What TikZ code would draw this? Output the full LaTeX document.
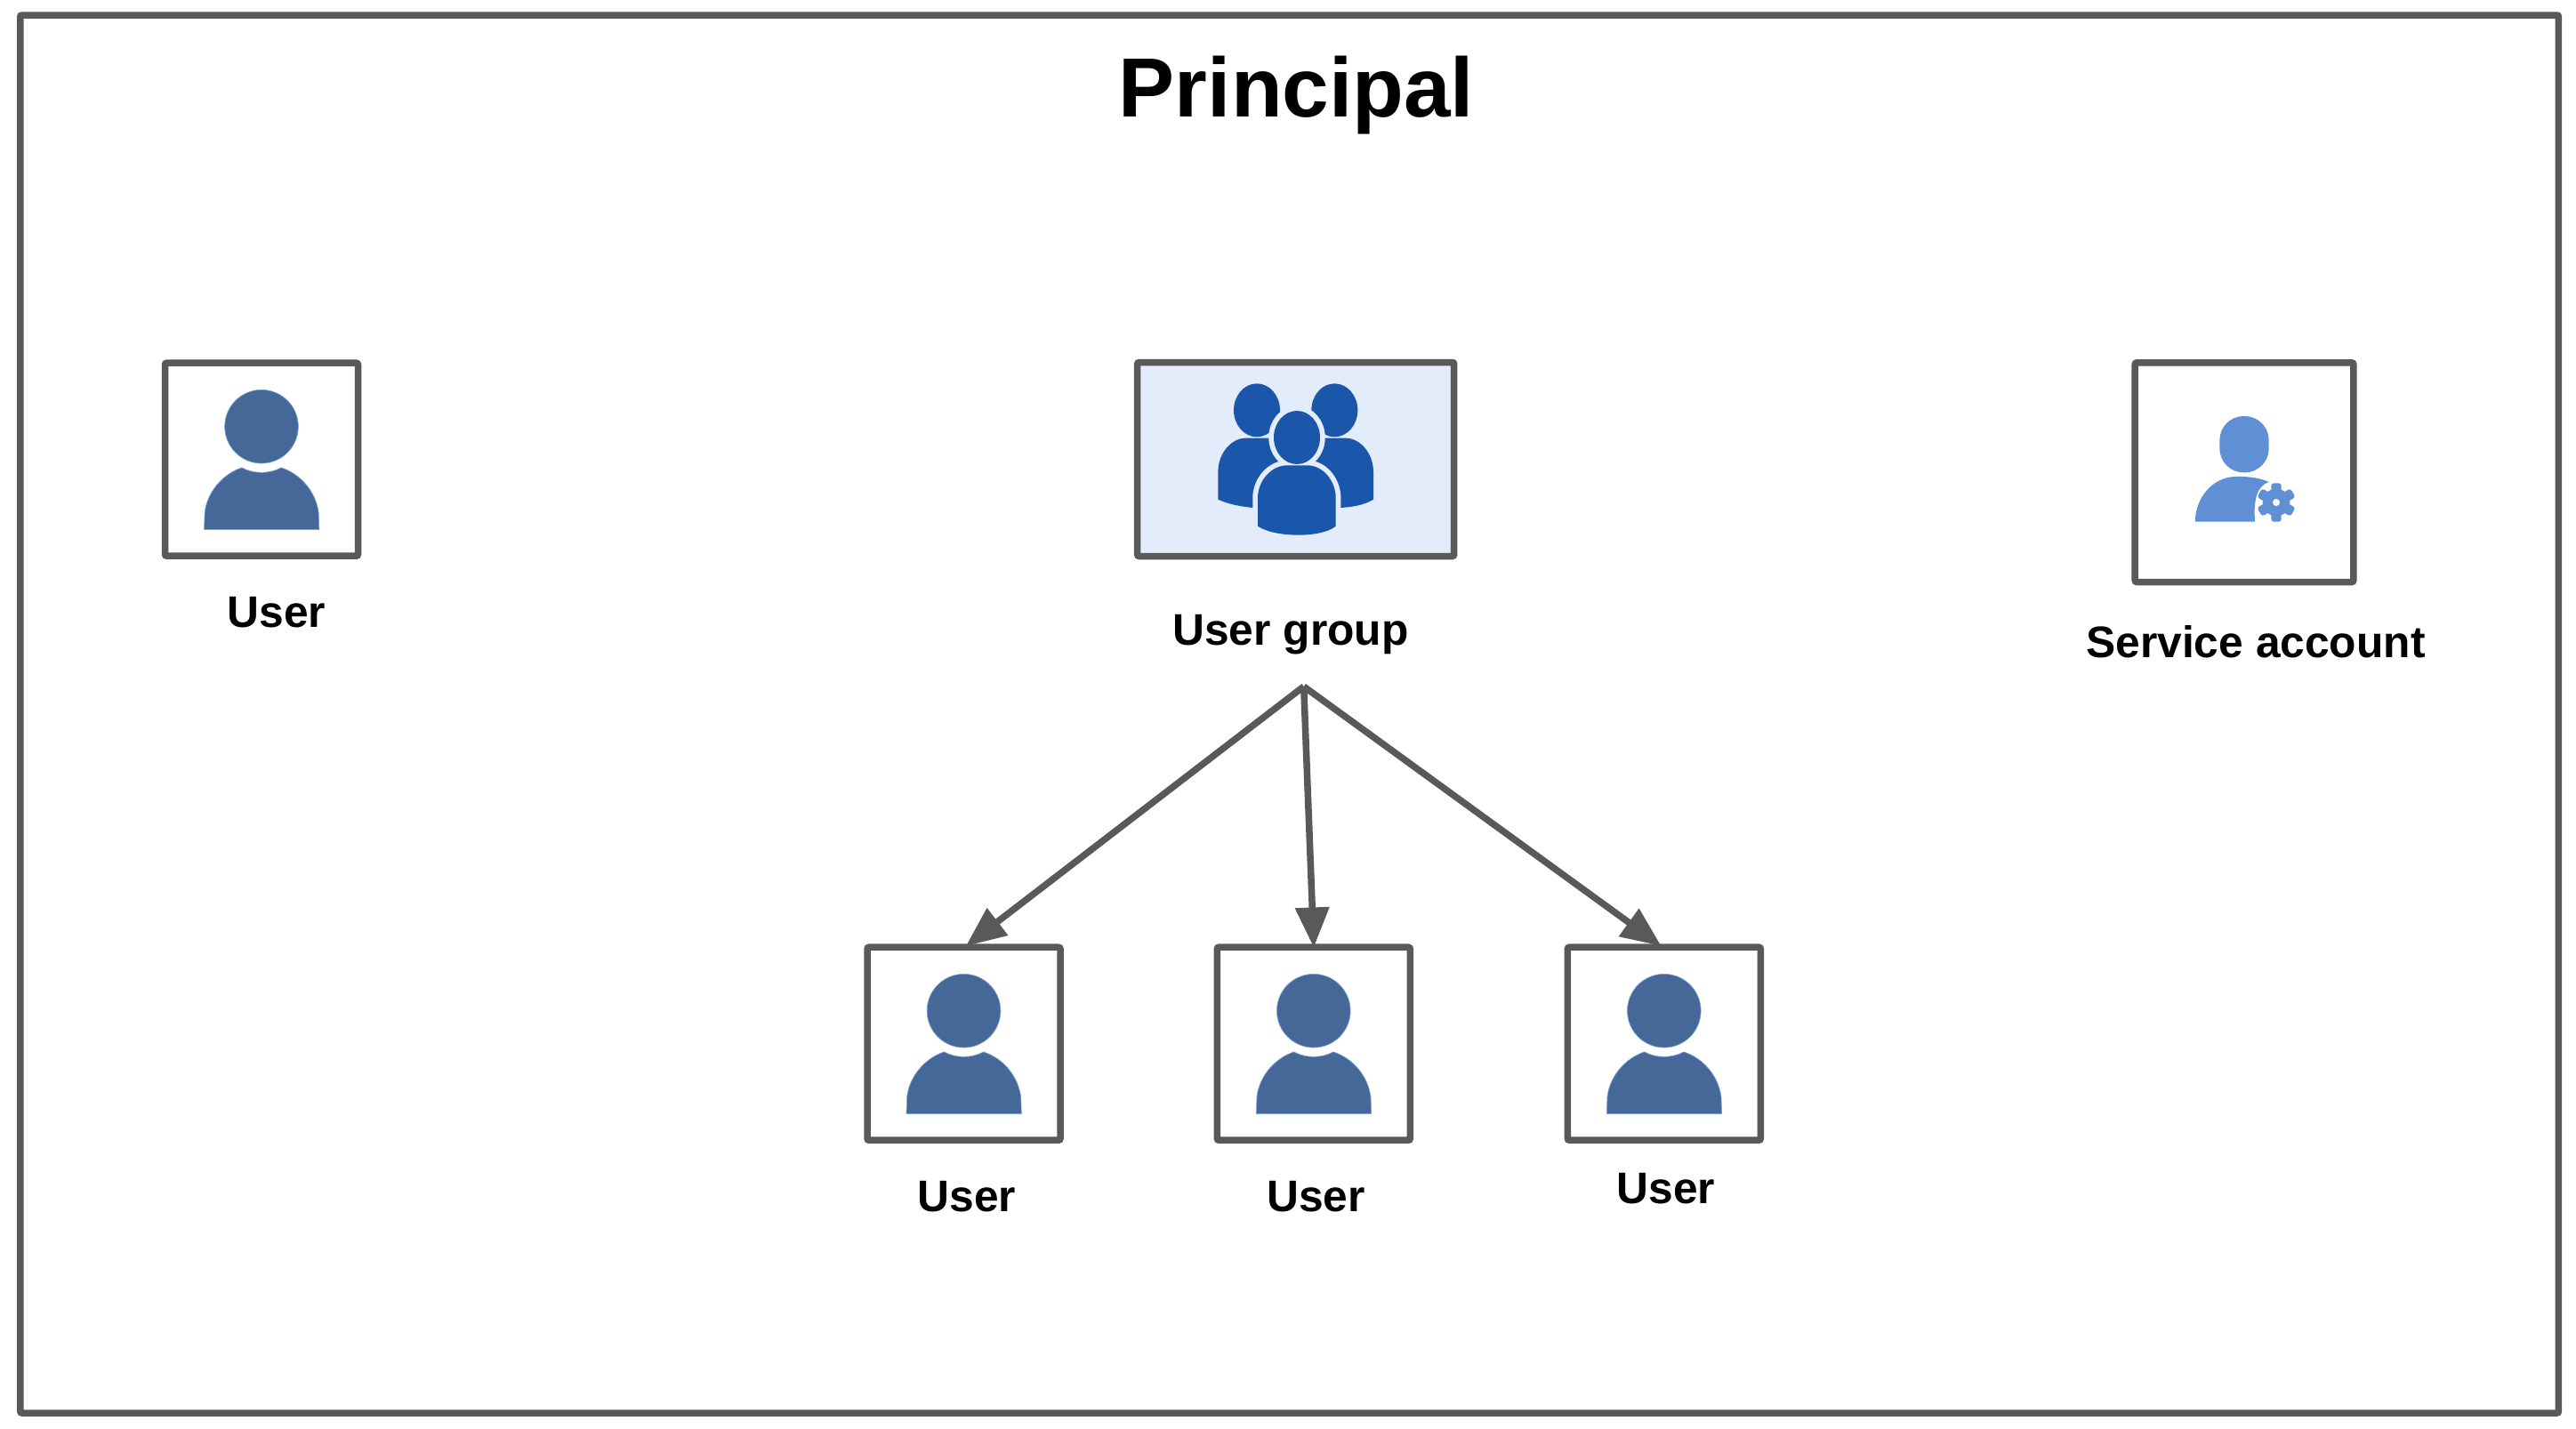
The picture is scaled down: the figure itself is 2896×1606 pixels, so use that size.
\documentclass[tikz,border=0pt]{standalone}
\usepackage{fontspec}
\setmainfont{Liberation Sans}
\usetikzlibrary{arrows.meta,calc}
\definecolor{edgegrey}{HTML}{595959}
\definecolor{userblue}{HTML}{456898}
\definecolor{userrim}{HTML}{7AA3DC}
\definecolor{groupblue}{HTML}{1A57AB}
\definecolor{groupbg}{HTML}{E3ECFB}
\definecolor{svcblue}{HTML}{5F8FD5}
\tikzset{
  frame/.style={draw=edgegrey,line width=7.5pt,rounded corners=2pt,inner sep=0pt,fill=white},
  userbox/.style={frame,minimum width=217pt,minimum height=217pt},
  label/.style={inner sep=0pt,anchor=base,font=\fontsize{49.7}{58}\selectfont\bfseries},
  link/.style={draw=edgegrey,line width=7.5pt,shorten >=-4pt,-{Triangle[length=45pt,width=37pt]}},
  usericon/.pic={
    \begin{scope}[xscale=1/3,yscale=1/3,shift={(-431.5,-410.5)}]
      \fill[userblue,draw=userrim,line width=.6pt] (431.5,299.5) circle[radius=124];
      \fill[userblue,draw=userrim,line width=.6pt] (238,647) -- (240,590) .. controls (248,520) and (300,460) .. (365,438)
        .. controls (405,460) and (458,460) .. (498,438) .. controls (565,460) and (615,520) .. (624,590) -- (626,647) -- cycle;
    \end{scope}
  }
}
\begin{document}
\begin{tikzpicture}[x=1pt,y=-1pt]
\useasboundingbox (0,0) rectangle (2896,1606);
\fill[white] (0,0) rectangle (2896,1606);
\node[frame,minimum width=2853.7pt,minimum height=1572pt] (outer) at (1449.6,803) {};
\node[inner sep=0pt,anchor=base,font=\fontsize{94.5}{110}\selectfont\bfseries] (title) at (1457.5,131) {Principal};

\node[userbox] (solo) at (294,516.7) {};
\pic at (solo.center) {usericon};
\node[label] (sololabel) at (311,705) {User};

\node[frame,fill=groupbg,minimum width=356pt,minimum height=218pt] (group) at (1456.7,516.5) {};
\begin{scope}[shift={(1260,390)},xscale=1/3,yscale=1/3]
  \fill[groupblue] (459,214) ellipse[x radius=78,y radius=90];
  \fill[groupblue] (721,214) ellipse[x radius=78,y radius=90];
  \fill[groupblue] (328,515) -- (328,420) .. controls (330,350) and (380,308) .. (420,308) -- (620,308) -- (620,543) -- (445,543) .. controls (400,538) and (360,530) .. cycle;
  \fill[groupblue] (852,515) -- (852,420) .. controls (850,350) and (800,308) .. (760,308) -- (560,308) -- (560,543) -- (743,543) .. controls (780,540) and (820,535) .. cycle;
  \path[fill=groupblue,draw=groupbg,line width=11.4pt] (594,306) ellipse[x radius=78,y radius=90];
  \path[fill=groupblue,draw=groupbg,line width=11.4pt] (462,605) -- (462,510) .. controls (462,450) and (510,400) .. (560,400) -- (630,400) .. controls (680,400) and (725,450) .. (725,510) -- (725,605) .. controls (680,645) and (520,645) .. cycle;
  \fill[groupblue] (594,306) ellipse[x radius=78,y radius=90];
  \fill[groupblue] (462,605) -- (462,510) .. controls (462,450) and (510,400) .. (560,400) -- (630,400) .. controls (680,400) and (725,450) .. (725,510) -- (725,605) .. controls (680,645) and (520,645) .. cycle;
\end{scope}
\node[label] (grouplabel) at (1451,725) {User group};

\node[frame,minimum width=245.6pt,minimum height=246.7pt] (svc) at (2523,531.2) {};
\begin{scope}[shift={(2380,390)},xscale=1/3,yscale=1/3]
  \fill[svcblue,rounded corners=27pt] (346,234) rectangle (512,424);
  \fill[svcblue] (263,590) .. controls (265,510) and (320,440) .. (400,438) .. controls (445,436) and (490,445) .. (512,456) .. controls (470,470) and (460,520) .. (465,590) -- cycle;
  \begin{scope}[shift={(537,525)}]
    \fill[svcblue] (0,0) circle[radius=46];
    \foreach \a in {90,30,-30,-90,-150,150}
      \fill[svcblue,rotate=\a,rounded corners=3pt] (20,-17) rectangle (65,17);
    \fill[white] (0,0) circle[radius=12];
  \end{scope}
\end{scope}
\node[label] (svclabel) at (2536,739) {Service account};

\node[userbox] (u1) at (1083.5,1173.7) {};
\node[userbox] (u2) at (1476.8,1173.7) {};
\node[userbox] (u3) at (1870.8,1173.7) {};
\pic at (u1.center) {usericon};
\pic at (u2.center) {usericon};
\pic at (u3.center) {usericon};
\node[label] (u1label) at (1087,1362) {User};
\node[label] (u2label) at (1479.5,1362) {User};
\node[label] (u3label) at (1873,1353) {User};

\coordinate (apex) at (1465.7,772);
\draw[link] (apex) -- ($(u1.north)+(5.5,0)$);
\draw[link] (apex) -- (u2.north);
\draw[link] (apex) -- ($(u3.north)+(-6.5,0)$);
\end{tikzpicture}
\end{document}
